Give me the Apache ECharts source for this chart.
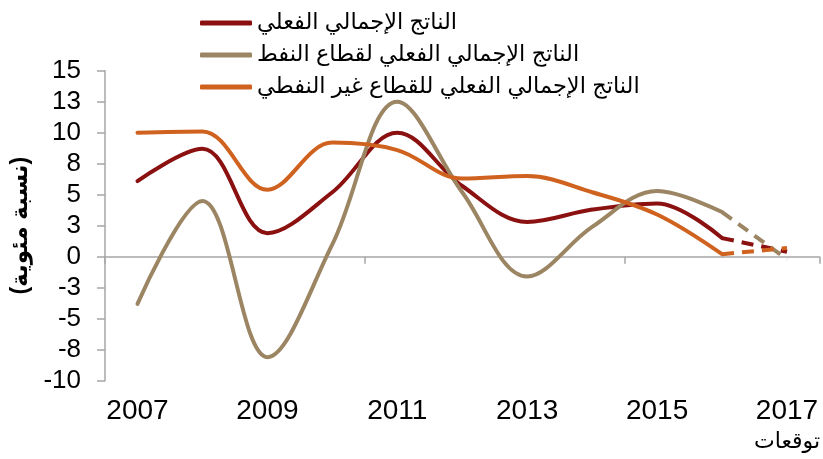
<!DOCTYPE html>
<html><head><meta charset="utf-8">
<script src="https://cdn.jsdelivr.net/npm/echarts@6/dist/echarts.min.js"></script>
<style>html,body{margin:0;padding:0;background:#fff}#c{width:823px;height:459px}</style>
</head><body><div id="c"></div>
<script>
const years = ['2007','2008','2009','2010','2011','2012','2013','2014','2015','2016','2017'];
const forecastLabel = 'توقعات';
const seriesNames = ['الناتج الإجمالي الفعلي','الناتج الإجمالي الفعلي لقطاع النفط','الناتج الإجمالي الفعلي للقطاع غير النفطي'];
const realGDP   = [6.1, 8.7, 1.9, 5.2, 10.0, 5.7, 2.8, 3.8, 4.3, 1.5, 0.4];
const oilGDP    = [-3.8, 4.5, -8.1, 1.0, 12.5, 5.2, -1.6, 2.4, 5.3, 3.6, -0.2];
const nonOilGDP = [10.0, 10.1, 5.4, 9.2, 8.6, 6.3, 6.5, 5.2, 3.4, 0.2, 0.7];
const yTickLabels = ['-10','-8','-5','-3','0','3','5','8','10','13','15'];
const yAxisTitle = '(نسبة مئوية)';
const actualCount = 10; // 2007..2016 drawn solid, 2016..2017 dashed (forecast)

const colors = ['#8B1010', '#9B8562', '#D0621F'];
const font = 'Liberation Sans, Arial, DejaVu Sans, sans-serif';
const allData = [realGDP, oilGDP, nonOilGDP];

const series = [];
allData.forEach((arr, k) => {
  series.push({
    name: seriesNames[k], type: 'line', smooth: 0.36, symbol: 'none',
    data: arr.slice(0, actualCount),
    lineStyle: { color: colors[k], width: 4, cap: 'round' },
    itemStyle: { color: colors[k] }
  });
});
allData.forEach((arr, k) => {
  series.push({
    name: seriesNames[k], type: 'line', symbol: 'none',
    data: arr.map((v, i) => i >= actualCount - 1 ? v : null),
    lineStyle: { color: colors[k], width: 4, type: [12, 8], cap: 'butt' },
    itemStyle: { color: colors[k] }
  });
});

const chart = echarts.init(document.getElementById('c'), null, { renderer: 'canvas' });
chart.setOption({
  animation: false,
  backgroundColor: '#fff',
  textStyle: { fontFamily: font },
  grid: { left: 105, right: 3, top: 70.7, bottom: 78.3, containLabel: false },
  legend: {
    data: seriesNames, orient: 'vertical', left: 200, top: 10, padding: 0,
    icon: 'roundRect', itemWidth: 52, itemHeight: 5, itemGap: 6,
    textStyle: { fontSize: 22.5, lineHeight: 26, color: '#000', fontFamily: font }
  },
  xAxis: [
    {
      type: 'category', data: years, boundaryGap: true, position: 'bottom',
      axisLine: { show: false, onZero: false }, axisTick: { show: false },
      axisLabel: {
        interval: 1, margin: 16, fontSize: 28, color: '#000', fontFamily: font, lineHeight: 30,
        formatter: v => v === years[years.length - 1] ? v + '\n{f|' + forecastLabel + '}' : v,
        rich: { f: { fontSize: 22, lineHeight: 30, color: '#000', fontFamily: font } }
      },
      splitLine: { show: false }
    },
    {
      type: 'category', data: years, boundaryGap: true, position: 'bottom',
      axisLine: { show: true, onZero: true, lineStyle: { color: '#A6A6A6', width: 1.5 } },
      axisTick: { show: true, interval: 3, length: 7, lineStyle: { color: '#A6A6A6', width: 1.5 } },
      axisLabel: { show: false }, splitLine: { show: false }
    }
  ],
  yAxis: {
    type: 'value', min: -10, max: 15, interval: 2.5,
    name: yAxisTitle, nameLocation: 'middle', nameRotate: 90, nameGap: 67,
    nameTextStyle: { fontSize: 23, fontWeight: 'bold', color: '#000', fontFamily: font },
    axisLine: { show: true, lineStyle: { color: '#A6A6A6', width: 1.5 } },
    axisTick: { show: true, length: 8, lineStyle: { color: '#A6A6A6', width: 1.5 } },
    axisLabel: {
      margin: 24, fontSize: 26, color: '#000', fontFamily: font,
      formatter: v => yTickLabels[Math.round((v + 10) / 2.5)]
    },
    splitLine: { show: false }
  },
  series: series
});
</script></body></html>
